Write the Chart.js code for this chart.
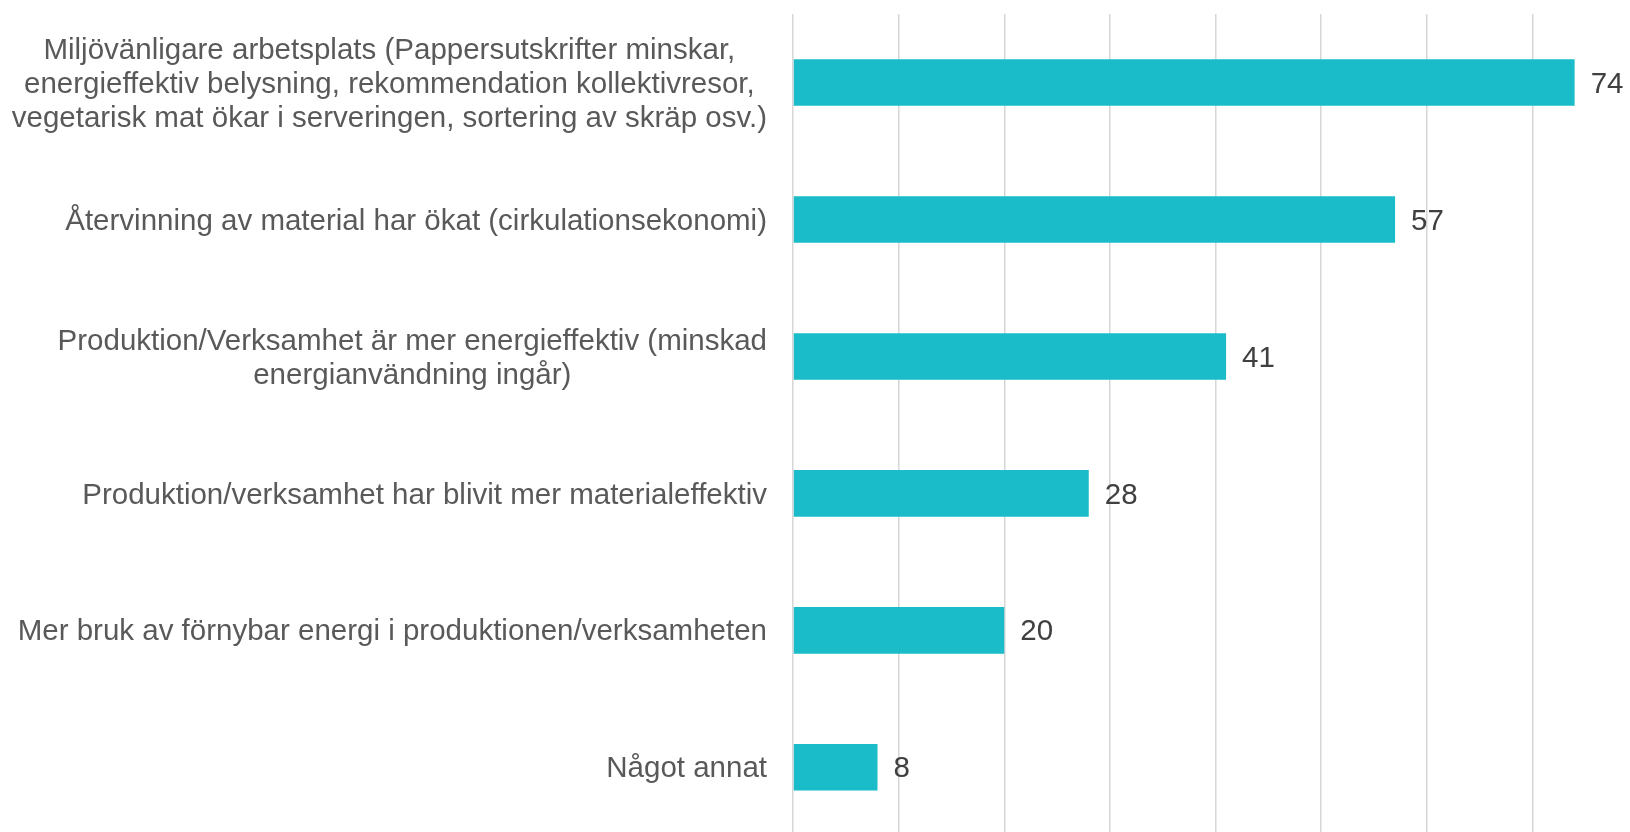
<!DOCTYPE html>
<html>
<head>
<meta charset="utf-8">
<script src="https://cdn.jsdelivr.net/npm/chart.js@4"></script>
<style>
  html, body { margin: 0; padding: 0; background: #fff; overflow: hidden; }
  #wrap { width: 1630px; height: 832px; overflow: hidden; position: relative; }
</style>
</head>
<body>
<div id="wrap"><canvas id="barChart" width="1641" height="846"></canvas></div>
<script>
"use strict";

// 回答カテゴリ
const categories = [
  [
    "Miljövänligare arbetsplats (Pappersutskrifter minskar,",
    "energieffektiv belysning, rekommendation kollektivresor,",
    "vegetarisk mat ökar i serveringen, sortering av skräp osv.)",
  ],
  "Återvinning av material har ökat (cirkulationsekonomi)",
  ["Produktion/Verksamhet är mer energieffektiv (minskad", "energianvändning ingår)"],
  "Produktion/verksamhet har blivit mer materialeffektiv",
  "Mer bruk av förnybar energi i produktionen/verksamheten",
  "Något annat",
];
const values = [74, 57, 41, 28, 20, 8];
const xTicks = [0, 10, 20, 30, 40, 50, 60, 70, 80];

const FONT = "29.5px 'Liberation Sans', Arial, sans-serif";

// ラベルを中央揃えで描く
const centeredLabels = {
  id: "centeredLabels",
  afterDraw(chart) {
    const ctx = chart.ctx;
    const yScale = chart.scales.y;
    const right = yScale.right - 26;
    const lineH = 34;
    ctx.save();
    ctx.font = FONT;
    ctx.fillStyle = "#595959";
    ctx.textAlign = "center";
    ctx.textBaseline = "middle";
    categories.forEach((label, i) => {
      const lines = Array.isArray(label) ? label : [label];
      const w = Math.max(...lines.map((l) => ctx.measureText(l).width));
      const cx = right - w / 2;
      const cy = yScale.getPixelForTick(i) + 2;
      const top = cy - ((lines.length - 1) * lineH) / 2;
      lines.forEach((l, j) => ctx.fillText(l, cx, top + j * lineH));
    });
    ctx.restore();
  },
};

// 値ラベル
const valueLabels = {
  id: "valueLabels",
  afterDatasetsDraw(chart) {
    const ctx = chart.ctx;
    const meta = chart.getDatasetMeta(0);
    ctx.save();
    ctx.font = FONT;
    ctx.fillStyle = "#404040";
    ctx.textAlign = "left";
    ctx.textBaseline = "middle";
    meta.data.forEach((bar, i) => {
      ctx.fillText(String(values[i]), bar.x + 16, bar.y + 2);
    });
    ctx.restore();
  },
};

let context = document.querySelector("#barChart").getContext("2d");
new Chart(context, {
  type: "bar",
  data: {
    labels: categories,
    datasets: [
      {
        data: values,
        backgroundColor: "#19BCC8",
        borderWidth: 0,
        barPercentage: 0.34,
        categoryPercentage: 1,
      },
    ],
  },
  options: {
    indexAxis: "y",
    responsive: false,
    animation: false,
    layout: {
      padding: { top: 14, right: 3, bottom: 3, left: 0 },
    },
    plugins: {
      legend: { display: false },
      tooltip: { enabled: false },
    },
    scales: {
      x: {
        min: xTicks[0],
        max: xTicks[xTicks.length - 1],
        border: { display: false },
        grid: {
          color: "#d6d6d6",
          lineWidth: 1.5,
          drawTicks: false,
        },
        ticks: {
          display: false,
          stepSize: xTicks[1] - xTicks[0],
        },
      },
      y: {
        border: { display: false },
        grid: { display: false, drawTicks: false },
        ticks: {
          callback: function () {
            return "";
          },
        },
        afterFit: function (scale) {
          scale.width = 793;
        },
      },
    },
  },
  plugins: [centeredLabels, valueLabels],
});
</script>
</body>
</html>
